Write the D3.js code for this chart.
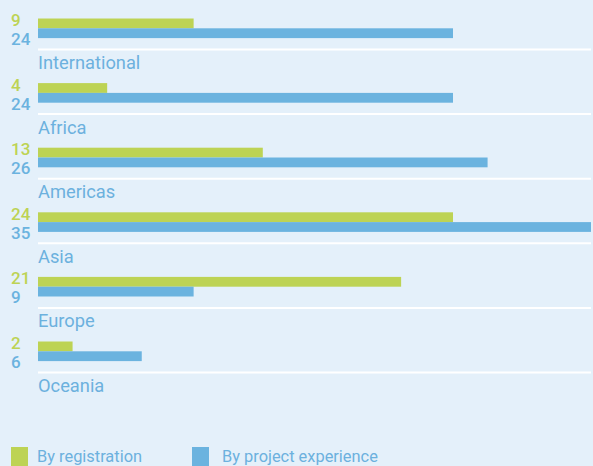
<!DOCTYPE html>
<meta charset="utf-8">
<head>
<style>
body { margin: 0; background: #e4f0fa; }
svg { display: block; font-family: Roboto, sans-serif; }
.sep { stroke: #fff; stroke-width: 2; }
.cat { fill: #6cb1de; font-size: 18.3px; }
.num { font-size: 17px; font-weight: 500; }
.legend text { fill: #6cb1de; font-size: 16.4px; }
</style>
</head>
<body>
<svg width="593" height="466"></svg>
<script src="https://d3js.org/d3.v7.min.js"></script>
<script>
let regions = ['International', 'Africa', 'Americas', 'Asia', 'Europe', 'Oceania'];
let byRegistration = [9, 4, 13, 24, 21, 2];
let byExperience = [24, 24, 26, 35, 9, 6];
let seriesNames = ['By registration', 'By project experience'];
let colors = ['#bdd354', '#6bb3df'];

let svg = d3.select('svg');

// one unit is ~17.3px; the widest bar runs off the panel
let x = d3.scaleLinear().domain([0, 24]).range([38, 453]);
let y = d3.scaleBand().domain(regions).range([18.5, 18.5 + 64.6 * regions.length]);
let right = 591;

let rows = svg.selectAll('.row')
    .data(regions)
    .enter().append('g')
        .attr('class', 'row')
        .attr('transform', (d) => `translate(0, ${y(d)})`);

let barH = 9.8;

rows.append('rect')
    .attr('x', x(0))
    .attr('y', 0)
    .attr('width', (d, i) => Math.min(x(byRegistration[i]), right) - x(0))
    .attr('height', barH)
    .attr('fill', colors[0]);

rows.append('rect')
    .attr('x', x(0))
    .attr('y', barH)
    .attr('width', (d, i) => Math.min(x(byExperience[i]), right) - x(0))
    .attr('height', barH)
    .attr('fill', colors[1]);

rows.append('text')
    .attr('class', 'num')
    .attr('x', 11)
    .attr('y', 7.5)
    .attr('fill', colors[0])
    .text((d, i) => byRegistration[i]);

rows.append('text')
    .attr('class', 'num')
    .attr('x', 11)
    .attr('y', 26.5)
    .attr('fill', colors[1])
    .text((d, i) => byExperience[i]);

rows.append('line')
    .attr('class', 'sep')
    .attr('x1', 38)
    .attr('x2', right)
    .attr('y1', 31)
    .attr('y2', 31);

rows.append('text')
    .attr('class', 'cat')
    .attr('x', 38)
    .attr('y', 50.5)
    .text((d) => d);

// legend
let legend = svg.append('g').attr('class', 'legend')
    .selectAll('g')
    .data(seriesNames)
    .enter().append('g')
        .attr('transform', (d, i) => `translate(${[11, 192][i]}, 447)`);

legend.append('rect')
    .attr('width', 17)
    .attr('height', 19)
    .attr('fill', (d, i) => colors[i]);

legend.append('text')
    .attr('x', (d, i) => [26, 30][i])
    .attr('y', 14.5)
    .text((d) => d);
</script>
</body>
</html>
